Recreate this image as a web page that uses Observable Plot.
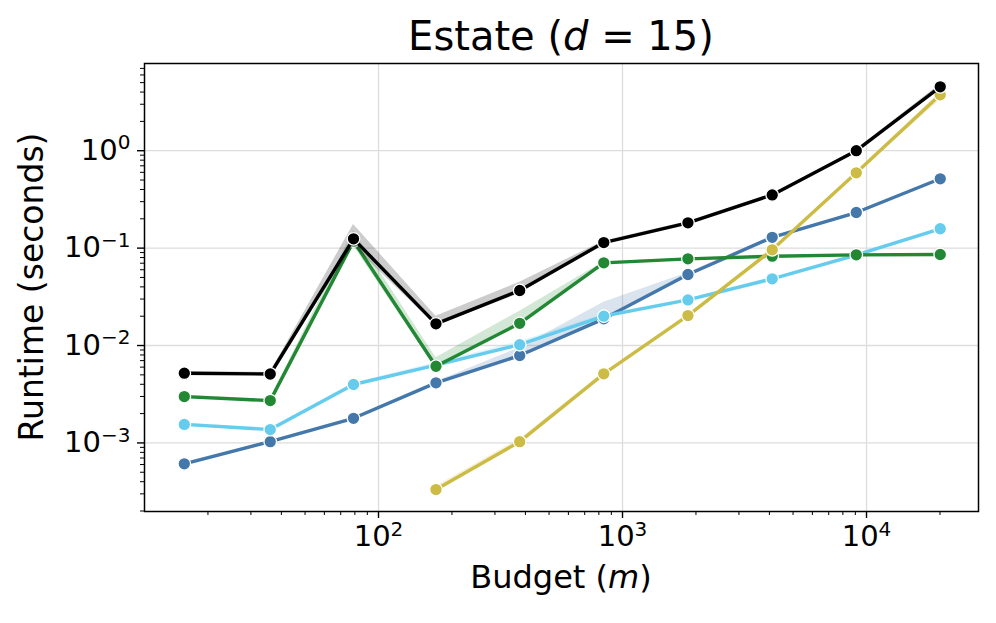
<!DOCTYPE html>
<html><head><meta charset="utf-8">
<script src="https://cdn.jsdelivr.net/npm/d3@7"></script>
<script src="https://cdn.jsdelivr.net/npm/@observablehq/plot@0.6"></script>
<style>body{margin:0;background:#fff} svg{display:block}</style>
</head><body><div id="chart"></div>
<script>
// Budget values (m)
const budget = [16, 36, 79, 172, 379, 838, 1854, 4107, 9080, 20050];

// Runtime (seconds) per series, with band bounds
const blue    = [0.00061, 0.00103, 0.00179, 0.00414, 0.00789, 0.0188, 0.0536, 0.129, 0.232, 0.515];
const blueLo  = [0.00059, 0.00100, 0.00175, 0.00405, 0.00765, 0.0180, 0.0525, 0.127, 0.229, 0.508];
const blueHi  = [0.00063, 0.00106, 0.00183, 0.00425, 0.0095, 0.0278, 0.0560, 0.132, 0.236, 0.522];

const cyan    = [0.00155, 0.00137, 0.00398, 0.0063, 0.0102, 0.0200, 0.0294, 0.0484, 0.085, 0.158];
const cyanLo  = [0.00150, 0.00133, 0.00385, 0.0060, 0.0097, 0.0192, 0.0287, 0.0478, 0.084, 0.155];
const cyanHi  = [0.00160, 0.00142, 0.00410, 0.0067, 0.0110, 0.0210, 0.0302, 0.0490, 0.086, 0.162];

const green   = [0.00299, 0.00272, 0.118, 0.00613, 0.0169, 0.0706, 0.0776, 0.0826, 0.0853, 0.086];
const greenLo = [0.00290, 0.00265, 0.105, 0.0058, 0.0160, 0.0690, 0.0765, 0.0815, 0.0845, 0.085];
const greenHi = [0.00310, 0.00280, 0.150, 0.0075, 0.0225, 0.0725, 0.0790, 0.0835, 0.0862, 0.087];

const yellow   = [null, null, null, 0.000332, 0.00103, 0.00512, 0.0203, 0.096, 0.593, 3.75];
const yellowLo = [null, null, null, 0.000320, 0.00099, 0.00495, 0.0198, 0.094, 0.580, 3.30];
const yellowHi = [null, null, null, 0.000360, 0.00110, 0.00530, 0.0208, 0.098, 0.610, 4.00];

const black   = [0.0052, 0.0051, 0.1245, 0.0167, 0.0367, 0.114, 0.182, 0.352, 1.0, 4.53];
const blackLo = [0.0050, 0.0049, 0.105, 0.0160, 0.0340, 0.110, 0.176, 0.345, 0.97, 4.30];
const blackHi = [0.0054, 0.0053, 0.175, 0.0200, 0.0447, 0.118, 0.188, 0.360, 1.03, 4.80];

const xMajor = [1e2, 1e3, 1e4];
const yMajor = [1e-3, 1e-2, 1e-1, 1e0];

const series = [
  {name: "blue",   color: "#4477AA", values: blue,   lo: blueLo,   hi: blueHi},
  {name: "cyan",   color: "#66CCEE", values: cyan,   lo: cyanLo,   hi: cyanHi},
  {name: "green",  color: "#228833", values: green,  lo: greenLo,  hi: greenHi},
  {name: "yellow", color: "#CCBB44", values: yellow, lo: yellowLo, hi: yellowHi},
  {name: "black",  color: "#000000", values: black,  lo: blackLo,  hi: blackHi}
];

const xDomain = [10.99, 28770];
const yDomain = [1.977e-4, 7.86];
const isPow10 = v => Math.abs(Math.log10(v) - Math.round(Math.log10(v))) < 1e-9;
const xMinor = d3.scaleLog().domain(xDomain).ticks().filter(v => !isPow10(v));
const yMinor = d3.scaleLog().domain(yDomain).ticks().filter(v => !isPow10(v));
const fmt = v => "10^" + Math.round(Math.log10(v));

const marks = [
  Plot.gridX({ticks: xMajor, stroke: "#dddddd", strokeOpacity: 1, strokeWidth: 1.3}),
  Plot.gridY({ticks: yMajor, stroke: "#dddddd", strokeOpacity: 1, strokeWidth: 1.3})
];
for (const s of series) {
  const rows = budget.map((b, i) => ({budget: b, value: s.values[i], lo: s.lo[i], hi: s.hi[i]}))
                     .filter(d => d.value != null);
  marks.push(
    Plot.areaY(rows, {x: "budget", y1: "lo", y2: "hi", fill: s.color, fillOpacity: 0.2}),
    Plot.lineY(rows, {x: "budget", y: "value", stroke: s.color, strokeWidth: 3.4}),
    Plot.dot(rows, {x: "budget", y: "value", fill: s.color, stroke: "white", strokeWidth: 1.3, r: 6.3})
  );
}
marks.push(
  Plot.axisX({ticks: xMinor, tickSize: 4, strokeWidth: 1, tickFormat: () => "", label: null}),
  Plot.axisY({ticks: yMinor, tickSize: 4, strokeWidth: 1, tickFormat: () => "", label: null}),
  Plot.axisX({ticks: xMajor, tickSize: 7, tickPadding: 7, strokeWidth: 1.4, fontSize: 29, tickFormat: fmt, label: null}),
  Plot.axisY({ticks: yMajor, tickSize: 7, tickPadding: 7, strokeWidth: 1.4, fontSize: 29, tickFormat: fmt, label: null}),
  Plot.frame({stroke: "black", strokeWidth: 1.5})
);

const svg = Plot.plot({
  width: 996, height: 623,
  marginLeft: 144, marginRight: 18, marginTop: 63, marginBottom: 112,
  x: {type: "log", domain: xDomain},
  y: {type: "log", domain: yDomain},
  style: {fontFamily: "'DejaVu Sans', sans-serif", background: "white", color: "black", overflow: "visible"},
  marks
});
document.getElementById("chart").appendChild(svg);

// superscripts for tick labels
svg.querySelectorAll("text").forEach(t => {
  const m = t.textContent.match(/^10\^(-?\d+)$/);
  if (!m) return;
  t.textContent = "";
  const sel = d3.select(t);
  sel.append("tspan").text("10");
  sel.append("tspan").attr("font-size", 20).attr("dy", -10.5).text(m[1].replace("-", "\u2212"));
});

const s = d3.select(svg);
const title = s.append("text").attr("x", 561).attr("y", 50).attr("text-anchor", "middle")
  .attr("font-size", 40).attr("fill", "black").attr("font-family", "'DejaVu Sans', sans-serif");
title.append("tspan").text("Estate (");
title.append("tspan").attr("font-style", "italic").text("d");
title.append("tspan").text(" = 15)");

const xl = s.append("text").attr("x", 561).attr("y", 588).attr("text-anchor", "middle")
  .attr("font-size", 32).attr("fill", "black").attr("font-family", "'DejaVu Sans', sans-serif");
xl.append("tspan").text("Budget (");
xl.append("tspan").attr("font-style", "italic").text("m");
xl.append("tspan").text(")");

s.append("text").attr("transform", "translate(43,287) rotate(-90)").attr("text-anchor", "middle")
  .attr("font-size", 33).attr("fill", "black").attr("font-family", "'DejaVu Sans', sans-serif")
  .text("Runtime (seconds)");
</script>
</body></html>
